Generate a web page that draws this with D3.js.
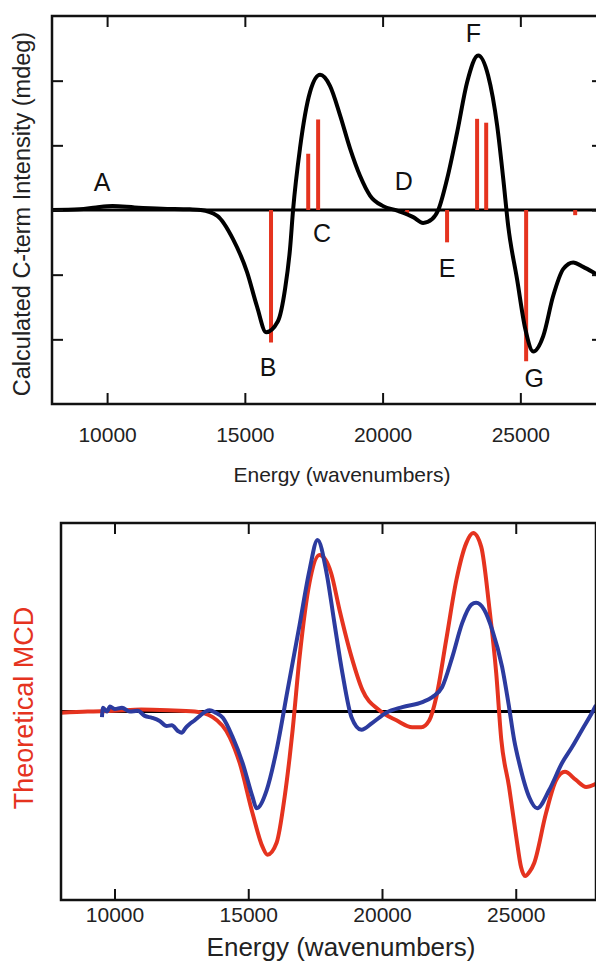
<!DOCTYPE html>
<html>
<head>
<meta charset="utf-8">
<script src="https://cdn.jsdelivr.net/npm/d3@7"></script>
<style>
  body { margin: 0; background: #fff; }
  svg { display: block; font-family: "Liberation Sans", Arial, Helvetica, sans-serif; }
  .frame { fill: none; stroke: #111; stroke-width: 2.5; }
  .zero { stroke: #000; stroke-width: 3; }
  .tick line { stroke: #111; stroke-width: 2; }
  .tick text { font-size: 21px; fill: #222; }
</style>
</head>
<body>
<svg width="596" height="965"></svg>
<script>
// ---- top panel: calculated C-term spectrum (black) ----
const cTermEnergy = [8000, 9000, 9600, 10200, 11000, 12000, 13000, 13400, 14000, 14570,
  15080, 15440, 15770, 16200, 16460, 16640, 16750, 17000, 17370, 17730, 18090, 18460,
  18820, 19180, 19550, 20020, 20530, 21110, 21470, 21800, 22020, 22340, 22710, 23070,
  23470, 23830, 24160, 24380, 24560, 24880, 25180, 25470, 25830, 26190, 26560, 26920,
  27280, 27750, 28000];
const cTermValue = [0, 0.01, 0.04, 0.06, 0.04, 0.02, 0.01, 0, -0.09, -0.45,
  -0.96, -1.49, -1.89, -1.72, -1.22, -0.6, 0, 0.95, 1.83, 2.09, 1.92, 1.46,
  0.95, 0.53, 0.22, 0.06, -0.01, -0.11, -0.2, -0.14, 0, 0.48, 1.21, 1.98,
  2.39, 2.08, 1.3, 0.48, -0.25, -1.07, -1.84, -2.19, -1.95, -1.33, -0.91, -0.81,
  -0.88, -0.99, -1.05];

// transition sticks (red)
const stickEnergy = [15950, 17300, 17660, 20890, 22340, 23430, 23760, 25210, 26990];
const stickValue = [-2.05, 0.87, 1.4, -0.06, -0.5, 1.41, 1.35, -2.34, -0.08];

// band letters
const bandNames = ["A", "B", "C", "D", "E", "F", "G"];
const bandEnergy = [9820, 15840, 17800, 20770, 22340, 23300, 25500];
const bandValue = [0.29, -2.57, -0.5, 0.31, -1.04, 2.6, -2.74];

// ---- bottom panel: theoretical (red) vs experimental (blue) MCD ----
const theoryEnergy = [8000, 9000, 10000, 11000, 12000, 13000, 13670, 14310, 14680, 15160,
  15540, 15720, 16060, 16360, 16550, 16660, 16920, 17290, 17660, 17880, 18100, 18410, 18860,
  19270, 19900, 20540, 21130, 21470, 21770, 22030, 22400, 22780, 23150, 23410, 23710,
  24010, 24270, 24460, 24750, 25020, 25200, 25350, 25520, 25690, 26130, 26510, 26840,
  27250, 27630, 28000];
const theoryValue = [-0.02, 0, 0.01, 0.03, 0.02, 0, -0.09, -0.41, -0.82, -1.62,
  -2.16, -2.28, -2.09, -1.36, -0.72, -0.29, 0.87, 2.05, 2.49, 2.42, 2.2, 1.62, 0.87,
  0.34, 0.02, -0.14, -0.25, -0.25, -0.14, 0.23, 1.14, 2.09, 2.68, 2.84, 2.62,
  1.66, 0.61, -0.45, -1.2, -2.0, -2.48, -2.62, -2.55, -2.41, -1.62, -1.09, -0.96,
  -1.09, -1.2, -1.15];

const exptEnergy = [9530, 9570, 9720, 9830, 10010, 10280, 10570, 10870, 11130, 11400,
  11690, 11950, 12140, 12370, 12510, 12660, 12810, 13000, 13190, 13410, 13560, 13780,
  14050, 14420, 14790, 15160, 15310, 15690, 16060, 16470, 16920, 17290, 17590, 17930,
  18220, 18520, 18860, 19230, 19640, 20160, 20760, 21510, 21880, 22250, 22630, 23000,
  23340, 23520, 23820, 24120, 24490, 24750, 24940, 25130, 25500, 25800, 26250, 26730,
  27100, 27480, 27850, 28000];
const exptValue = [-0.09, 0.06, 0, 0.08, 0.04, 0.06, 0, 0.01, -0.07, -0.1,
  -0.15, -0.23, -0.22, -0.31, -0.34, -0.26, -0.2, -0.14, -0.07, 0, 0.02, -0.02,
  -0.1, -0.41, -0.82, -1.36, -1.54, -1.25, -0.61, 0.34, 1.38, 2.25, 2.73, 2.2,
  1.41, 0.61, -0.09, -0.29, -0.18, -0.02, 0.07, 0.15, 0.23, 0.39, 0.87, 1.41,
  1.7, 1.73, 1.62, 1.3, 0.71, 0.07, -0.45, -0.82, -1.36, -1.54, -1.25, -0.82,
  -0.57, -0.29, -0.02, 0.1];

const xTicks = [10000, 15000, 20000, 25000];
const yTicks = [-2, -1, 0, 1, 2];

const RED = "#e5331f";
const BLUE = "#2c3b9f";

const svg = d3.select("svg");
const zip = (xs, ys) => xs.map((x, i) => [x, ys[i]]);

// ================= top panel =================
const upper = { left: 52, right: 603, top: 16, bottom: 404 };
const x1 = d3.scaleLinear().domain([8000, 28000]).range([upper.left, upper.right]);
const y1 = d3.scaleLinear().domain([-3, 3]).range([upper.bottom, upper.top]);

const g1 = svg.append("g");

g1.append("line")
  .attr("class", "zero")
  .attr("x1", upper.left).attr("x2", upper.right)
  .attr("y1", y1(0)).attr("y2", y1(0));

g1.selectAll("line.stick")
  .data(zip(stickEnergy, stickValue))
  .join("line")
  .attr("class", "stick")
  .attr("x1", (d) => x1(d[0])).attr("x2", (d) => x1(d[0]))
  .attr("y1", y1(0)).attr("y2", (d) => y1(d[1]))
  .attr("stroke", RED)
  .attr("stroke-width", 4);

const line1 = d3.line().x((d) => x1(d[0])).y((d) => y1(d[1])).curve(d3.curveMonotoneX);
g1.append("path")
  .datum(zip(cTermEnergy, cTermValue))
  .attr("d", line1)
  .attr("fill", "none")
  .attr("stroke", "#000")
  .attr("stroke-width", 4)
  .attr("stroke-linejoin", "round");

g1.append("g")
  .attr("transform", `translate(0,${upper.bottom})`)
  .call(d3.axisBottom(x1).tickValues(xTicks).tickSize(-11).tickPadding(23).tickFormat(d3.format("d")))
  .call((g) => g.select(".domain").remove());
g1.append("g")
  .attr("transform", `translate(0,${upper.top})`)
  .call(d3.axisTop(x1).tickValues(xTicks).tickSize(-11).tickFormat(""))
  .call((g) => g.select(".domain").remove());
g1.append("g")
  .attr("transform", `translate(${upper.left},0)`)
  .call(d3.axisLeft(y1).tickValues(yTicks).tickSize(-11).tickFormat(""))
  .call((g) => g.select(".domain").remove());
g1.append("g")
  .attr("transform", `translate(${upper.right},0)`)
  .call(d3.axisRight(y1).tickValues(yTicks).tickSize(-11).tickFormat(""))
  .call((g) => g.select(".domain").remove());

g1.append("rect")
  .attr("class", "frame")
  .attr("x", upper.left).attr("y", upper.top)
  .attr("width", upper.right - upper.left).attr("height", upper.bottom - upper.top);

g1.selectAll("text.band")
  .data(bandNames)
  .join("text")
  .attr("class", "band")
  .attr("x", (d, i) => x1(bandEnergy[i]))
  .attr("y", (d, i) => y1(bandValue[i]))
  .attr("text-anchor", "middle")
  .attr("font-size", 25)
  .attr("fill", "#111")
  .text((d) => d);

g1.append("text")
  .attr("x", 342).attr("y", 482)
  .attr("text-anchor", "middle")
  .attr("font-size", 21)
  .attr("fill", "#222")
  .text("Energy (wavenumbers)");

g1.append("text")
  .attr("transform", "translate(30,214) rotate(-90)")
  .attr("text-anchor", "middle")
  .attr("font-size", 23.5)
  .attr("fill", "#222")
  .text("Calculated C-term Intensity (mdeg)");

// ================= bottom panel =================
const lower = { left: 61, right: 596, top: 523, bottom: 900 };
const x2 = d3.scaleLinear().domain([8000, 28000]).range([lower.left, lower.right]);
const y2 = d3.scaleLinear().domain([-3, 3]).range([lower.bottom, lower.top]);

const g2 = svg.append("g");

g2.append("line")
  .attr("class", "zero")
  .attr("x1", lower.left).attr("x2", lower.right)
  .attr("y1", y2(0)).attr("y2", y2(0));

const line2 = d3.line().x((d) => x2(d[0])).y((d) => y2(d[1])).curve(d3.curveMonotoneX);
g2.append("path")
  .datum(zip(theoryEnergy, theoryValue))
  .attr("d", line2)
  .attr("fill", "none")
  .attr("stroke", RED)
  .attr("stroke-width", 4)
  .attr("stroke-linejoin", "round");
g2.append("path")
  .datum(zip(exptEnergy, exptValue))
  .attr("d", line2)
  .attr("fill", "none")
  .attr("stroke", BLUE)
  .attr("stroke-width", 4)
  .attr("stroke-linejoin", "round");

g2.append("g")
  .attr("transform", `translate(0,${lower.bottom})`)
  .call(d3.axisBottom(x2).tickValues(xTicks).tickSize(-11).tickPadding(7).tickFormat(d3.format("d")))
  .call((g) => g.select(".domain").remove());
g2.append("g")
  .attr("transform", `translate(0,${lower.top})`)
  .call(d3.axisTop(x2).tickValues(xTicks).tickSize(-11).tickFormat(""))
  .call((g) => g.select(".domain").remove());

g2.append("rect")
  .attr("class", "frame")
  .attr("x", lower.left).attr("y", lower.top)
  .attr("width", lower.right - lower.left).attr("height", lower.bottom - lower.top);

g2.append("text")
  .attr("x", 341).attr("y", 956)
  .attr("text-anchor", "middle")
  .attr("font-size", 26)
  .attr("fill", "#222")
  .text("Energy (wavenumbers)");

g2.append("text")
  .attr("transform", "translate(33,708) rotate(-90)")
  .attr("text-anchor", "middle")
  .attr("font-size", 27)
  .attr("fill", RED)
  .text("Theoretical MCD");
</script>
</body>
</html>
